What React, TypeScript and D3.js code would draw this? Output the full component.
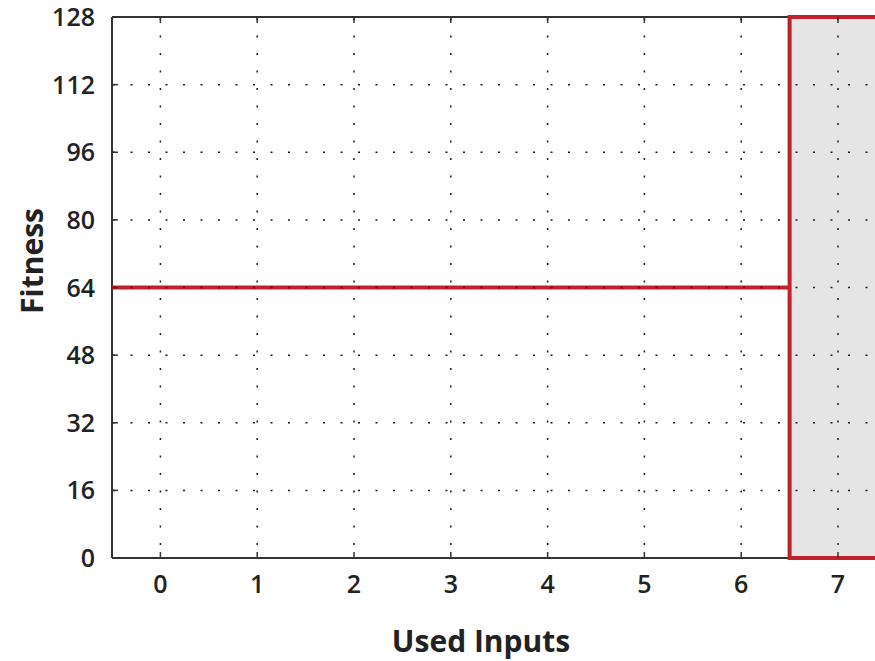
import React from "react";
import * as d3 from "d3";

// Categories on the x axis (number of used inputs)
const usedInputs = [0, 1, 2, 3, 4, 5, 6, 7];
// Fitness tick values
const fitnessTicks = [0, 16, 32, 48, 64, 80, 96, 112, 128];
// Fitness level reached for inputs 0..6
const fitnessLevel = 64;
const levelRange = [-0.5, 6.5];
// Highlighted region (inputs = 7) spans the full fitness range
const highlightRange = [6.5, 7.5];
const highlightFitness = [0, 128];

const W = 875;
const H = 661;
const left = 112;
const top = 17;
const bottom = 558;
const step = 96.8;

export default function App() {
  const x = d3.scaleLinear().domain([-0.5, 7.5]).range([left, left + 8 * step]);
  const y = d3.scaleLinear().domain([0, 128]).range([bottom, top]);
  const right = x(7.5);

  const font = "'Open Sans', 'DejaVu Sans', sans-serif";
  const axisColor = "#333";
  const red = "#c1212b";
  const dash = "2,15.5";

  const line = d3
    .line<number>()
    .x((d) => x(d))
    .y(() => y(fitnessLevel));

  return (
    <svg
      width={W}
      height={H}
      style={{ position: "fixed", left: 0, top: 0, background: "#fff" }}
    >
      {/* frame */}
      <line x1={left} x2={left} y1={top} y2={bottom} stroke={axisColor} strokeWidth={2} />
      <line x1={left} x2={right} y1={bottom} y2={bottom} stroke={axisColor} strokeWidth={2} />
      <line x1={left} x2={right} y1={top} y2={top} stroke={axisColor} strokeWidth={2} />

      {/* highlighted region */}
      <rect
        x={x(highlightRange[0])}
        y={y(highlightFitness[1])}
        width={x(highlightRange[1]) - x(highlightRange[0])}
        height={y(highlightFitness[0]) - y(highlightFitness[1])}
        fill="#e5e5e5"
        stroke={red}
        strokeWidth={4}
      />

      {/* fitness level line */}
      <path d={line(levelRange) || ""} fill="none" stroke={red} strokeWidth={4} />

      {/* grid */}
      <g stroke="#1a1a1a" strokeWidth={1.5} strokeDasharray={dash}>
        {fitnessTicks.slice(1, -1).map((t) => (
          <line key={"h" + t} x1={left + 1} x2={right} y1={y(t)} y2={y(t)} />
        ))}
        {usedInputs.map((c) => (
          <line key={"v" + c} x1={x(c)} x2={x(c)} y1={top + 1} y2={bottom} />
        ))}
      </g>

      {/* ticks */}
      <g stroke={axisColor} strokeWidth={1.5}>
        {fitnessTicks.map((t) => (
          <line key={"yt" + t} x1={left} x2={left + 6} y1={y(t)} y2={y(t)} />
        ))}
        {usedInputs.map((c) => (
          <g key={"xt" + c}>
            <line x1={x(c)} x2={x(c)} y1={bottom} y2={bottom - 6} />
            <line x1={x(c)} x2={x(c)} y1={top} y2={top + 6} />
          </g>
        ))}
      </g>

      {/* tick labels */}
      <g fontFamily={font} fontWeight={600} fontSize={25} fill="#222">
        {fitnessTicks.map((t) => (
          <text key={"yl" + t} x={95} y={y(t)} dy="0.36em" textAnchor="end">
            {t}
          </text>
        ))}
        {usedInputs.map((c) => (
          <text key={"xl" + c} x={x(c)} y={593} textAnchor="middle">
            {c}
          </text>
        ))}
      </g>

      {/* axis titles */}
      <text
        x={481}
        y={652}
        textAnchor="middle"
        fontFamily={font}
        fontWeight={700}
        fontSize={30}
        fill="#222"
      >
        Used Inputs
      </text>
      <text
        transform={`translate(43,${261}) rotate(-90)`}
        textAnchor="middle"
        fontFamily={font}
        fontWeight={700}
        fontSize={30}
        fill="#222"
      >
        Fitness
      </text>
    </svg>
  );
}
